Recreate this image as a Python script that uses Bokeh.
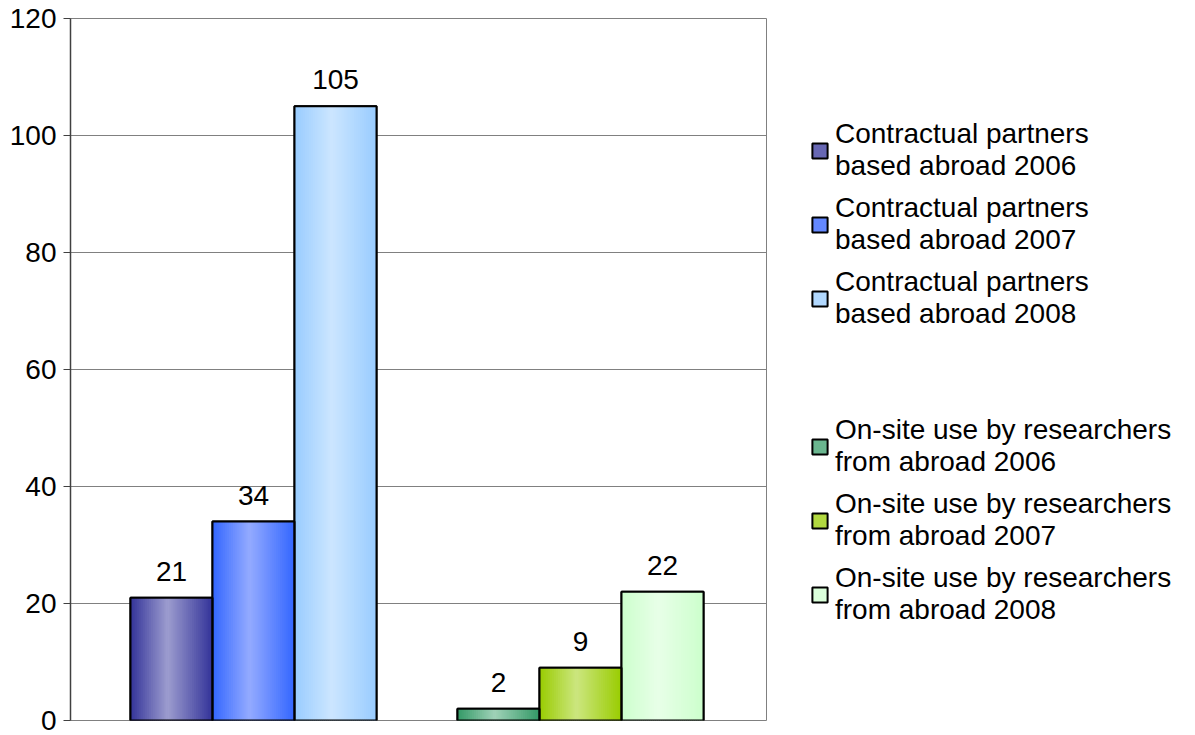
from bokeh.plotting import figure
from bokeh.models import ColumnDataSource, Legend, LegendItem, FixedTicker, Range1d
from bokeh.core.properties import value
from bokeh.embed import file_html
from bokeh.resources import INLINE

# ---- data ----
groups = ["Contractual partners based abroad", "On-site use by researchers from abroad"]
years = ["2006", "2007", "2008"]
contractual = [21, 34, 105]
onsite = [2, 9, 22]
legend_labels_contract = ["Contractual partners\nbased abroad 2006",
                          "Contractual partners\nbased abroad 2007",
                          "Contractual partners\nbased abroad 2008"]
legend_labels_onsite = ["On-site use by researchers\nfrom abroad 2006",
                        "On-site use by researchers\nfrom abroad 2007",
                        "On-site use by researchers\nfrom abroad 2008"]
y_ticks = [0, 20, 40, 60, 80, 100, 120]

# gradient colours (edge, centre)
edge_contract = ["#333399", "#3366ff", "#99ccff"]
mid_contract = ["#9d9dcf", "#94abff", "#cce6ff"]
edge_onsite = ["#339966", "#99cc00", "#ccffcc"]
mid_onsite = ["#a0d2b8", "#cce680", "#e8ffe8"]

FONT = "Liberation Sans"


def hex2rgb(h):
    h = h.lstrip("#")
    return tuple(int(h[i:i + 2], 16) for i in (0, 2, 4))


def mix(a, b, f):
    ra, rb = hex2rgb(a), hex2rgb(b)
    return "#%02x%02x%02x" % tuple(int(round(x + (y - x) * f)) for x, y in zip(ra, rb))


p = figure(frame_width=696, frame_height=702, output_backend="svg", toolbar_location=None,
           x_range=Range1d(0.4404, 2.5688), y_range=Range1d(0, 120),
           x_axis_location=None, min_border_left=70, min_border_top=18,
           min_border_bottom=15, min_border_right=0)
p.outline_line_color = "#808080"
p.outline_line_width = 1
p.background_fill_color = "white"
p.xgrid.visible = False
p.ygrid.ticker = FixedTicker(ticks=y_ticks)
p.ygrid.grid_line_color = "#808080"
p.ygrid.grid_line_width = 1

ax = p.yaxis[0]
ax.ticker = FixedTicker(ticks=y_ticks)
ax.axis_line_color = "#404040"
ax.axis_line_width = 1.5
ax.major_tick_line_color = "#404040"
ax.major_tick_out = 7
ax.major_tick_in = 0
ax.minor_tick_line_color = None
ax.major_label_text_font = FONT
ax.major_label_text_font_size = "28px"
ax.major_label_text_color = "black"
ax.major_label_standoff = 7

BW = 0.2508
N = 40

series = [(contractual, edge_contract, mid_contract, legend_labels_contract),
          (onsite, edge_onsite, mid_onsite, legend_labels_onsite)]

# base bars (also the legend renderers), drawn first
legend_groups = []
for gi, (vals, edges, mids, labels) in enumerate(series):
    center = gi + 1
    grp = []
    for k, v in enumerate(vals):
        x0 = center + (k - 1) * BW - BW / 2
        r = p.quad(left=[x0], right=[x0 + BW], top=[v], bottom=[0],
                   fill_color=mix(edges[k], mids[k], 0.5),
                   line_color="black", line_width=2)
        grp.append(LegendItem(label=labels[k], renderers=[r]))
    legend_groups.append(grp)

strip = dict(left=[], right=[], top=[], bottom=[], color=[])
outline = dict(left=[], right=[], top=[])
lab = dict(x=[], y=[], t=[])
for gi, (vals, edges, mids, labels) in enumerate(series):
    center = gi + 1
    for k, v in enumerate(vals):
        x0 = center + (k - 1) * BW - BW / 2
        for i in range(N):
            t = (i + 0.5) / N
            if t < 0.45:
                f = t / 0.45
            else:
                f = 1 - (t - 0.45) / 0.55
            strip["left"].append(x0 + i * BW / N)
            strip["right"].append(x0 + (i + 1) * BW / N + (BW / N * 0.3 if i < N - 1 else 0))
            strip["top"].append(v)
            strip["bottom"].append(0)
            strip["color"].append(mix(edges[k], mids[k], f))
        outline["left"].append(x0)
        outline["right"].append(x0 + BW)
        outline["top"].append(v)
        lab["x"].append(center + (k - 1) * BW)
        lab["y"].append(v)
        lab["t"].append(str(v))

p.quad(left="left", right="right", top="top", bottom="bottom", fill_color="color",
       line_color=None, source=ColumnDataSource(strip))
p.quad(left="left", right="right", top="top", bottom=0, fill_color=None,
       line_color="black", line_width=2, source=ColumnDataSource(outline))
p.text(x="x", y="y", text="t", source=ColumnDataSource(lab), text_align="center",
       text_baseline="bottom", y_offset=-17, text_font=value(FONT),
       text_font_size="28px", text_color="black")

blank = p.quad(left=[], right=[], top=[], bottom=[], fill_alpha=0, line_alpha=0)
items = legend_groups[0] + [LegendItem(label="\u00a0\n\u00a0", renderers=[blank])] + legend_groups[1]

lg = Legend(items=items, location=(44, 94))
lg.label_text_font = FONT
lg.label_text_font_size = "28px"
lg.label_text_color = "black"
lg.label_text_line_height = 0.93
lg.glyph_width = 19
lg.glyph_height = 19
lg.label_standoff = 6
lg.spacing = 10
lg.padding = 0
lg.margin = 0
lg.border_line_color = None
lg.background_fill_alpha = 0
p.add_layout(lg, "right")

open("out.html", "w").write(file_html(p, INLINE))
